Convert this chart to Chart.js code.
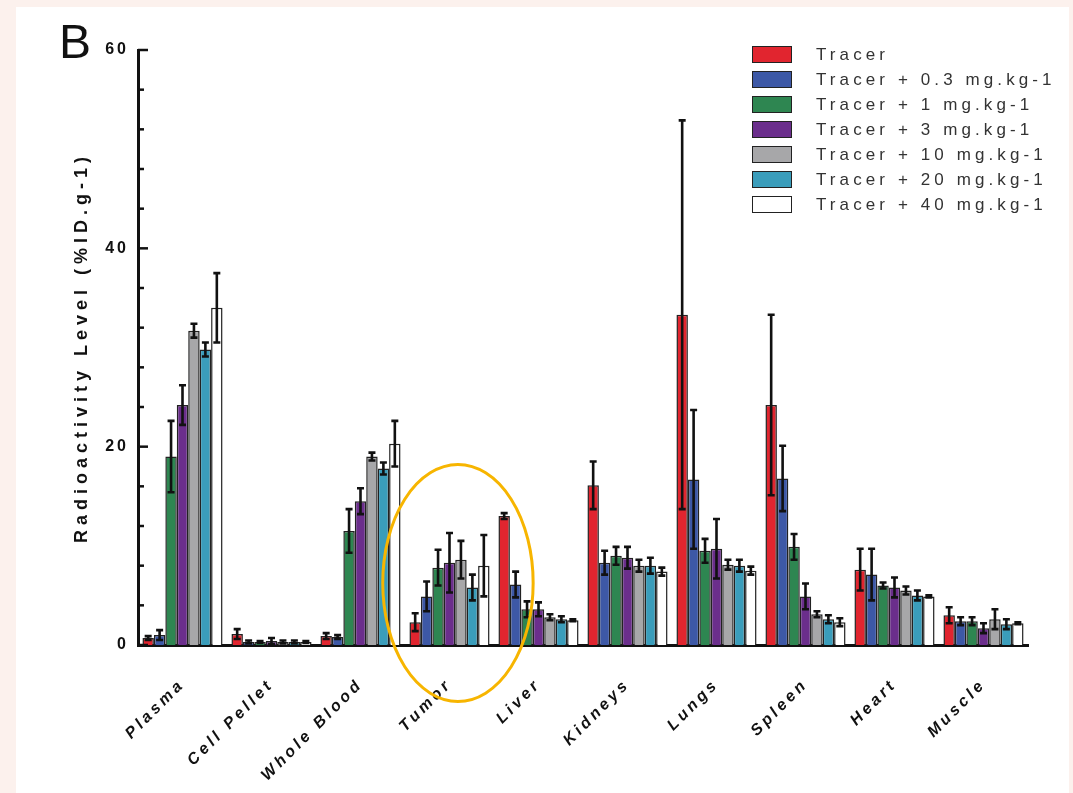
<!DOCTYPE html>
<html>
<head>
<meta charset="utf-8">
<script src="https://cdn.jsdelivr.net/npm/chart.js@4.4.1/dist/chart.umd.min.js"></script>
<style>
  html, body { margin:0; padding:0; }
  body { width:1073px; height:793px; background:#fcf1ed; position:relative; overflow:hidden; font-family:"Liberation Sans", Arial, sans-serif; }
  #panel { position:absolute; left:16px; top:7px; width:1053px; height:786px; background:#fff; }
  #chartBox { position:absolute; left:0; top:0; width:1073px; height:793px; }
  #panelLetter { position:absolute; left:59px; top:18px; font-size:48px; line-height:48px; color:#111; }
  #legend { position:absolute; left:752px; top:42px; list-style:none; margin:0; padding:0; }
  #legend li { height:25px; display:flex; align-items:center; }
  #legend .box { width:38px; height:15px; border:1.5px solid #222; margin-right:24px; box-sizing:content-box; }
  #legend .txt { font-size:17px; letter-spacing:4.1px; color:#333; }
</style>
</head>
<body>
<div id="panel"></div>
<div id="chartBox"><canvas id="bioChart" width="1073" height="793"></canvas></div>
<div id="panelLetter">B</div>
<ul id="legend"></ul>
<script>
// Organs and dose groups
const organs = ['Plasma','Cell Pellet','Whole Blood','Tumor','Liver','Kidneys','Lungs','Spleen','Heart','Muscle'];
const doseLabels = ['Tracer','Tracer + 0.3 mg.kg-1','Tracer + 1 mg.kg-1','Tracer + 3 mg.kg-1','Tracer + 10 mg.kg-1','Tracer + 20 mg.kg-1','Tracer + 40 mg.kg-1'];
const doseColors = ['#e1252f','#3d58a6','#2e8651','#6b2e8c','#a7a7a9','#3a9dbb','#ffffff'];

// mean %ID/g per organ, one array per dose group
const tracerMean  = [0.7, 1.1, 0.9, 2.3, 13.0, 16.1, 33.3, 24.2, 7.6, 3.0];
const dose03Mean  = [1.0, 0.3, 0.8, 4.9, 6.1, 8.3, 16.7, 16.8, 7.1, 2.4];
const dose1Mean   = [19.0, 0.3, 11.5, 7.8, 3.6, 9.0, 9.5, 9.9, 6.0, 2.4];
const dose3Mean   = [24.2, 0.4, 14.5, 8.3, 3.6, 8.8, 9.7, 4.9, 5.8, 1.7];
const dose10Mean  = [31.7, 0.3, 19.0, 8.6, 2.8, 8.0, 8.1, 3.1, 5.5, 2.6];
const dose20Mean  = [29.8, 0.3, 17.8, 5.8, 2.6, 8.0, 8.0, 2.6, 5.0, 2.1];
const dose40Mean  = [34.0, 0.3, 20.3, 8.0, 2.5, 7.4, 7.5, 2.3, 4.9, 2.2];

// error bars (+/-)
const tracerErr = [0.2, 0.5, 0.3, 0.9, 0.3, 2.4, 19.6, 9.1, 2.1, 0.8];
const dose03Err = [0.5, 0.15, 0.2, 1.5, 1.3, 1.2, 7.0, 3.3, 2.6, 0.4];
const dose1Err  = [3.6, 0.1, 2.2, 1.8, 0.8, 0.9, 1.2, 1.3, 0.3, 0.4];
const dose3Err  = [2.0, 0.3, 1.3, 3.0, 0.7, 1.1, 3.0, 1.3, 1.0, 0.5];
const dose10Err = [0.7, 0.15, 0.4, 1.9, 0.3, 0.6, 0.5, 0.3, 0.4, 1.0];
const dose20Err = [0.7, 0.15, 0.6, 1.3, 0.3, 0.8, 0.6, 0.4, 0.5, 0.5];
const dose40Err = [3.5, 0.1, 2.3, 3.1, 0.1, 0.4, 0.4, 0.4, 0.1, 0.1];

const yTicks = [0, 20, 40, 60];

// circled region (category index range and y range)
const circleX = [2.25, 3.94];
const circleY = [-5.7, 18.2];

const means = [tracerMean, dose03Mean, dose1Mean, dose3Mean, dose10Mean, dose20Mean, dose40Mean];
const errs  = [tracerErr, dose03Err, dose1Err, dose3Err, dose10Err, dose20Err, dose40Err];

// canvas has no letter-spacing option in chart.js, so wrap the scale draw calls
function spaced(scale, method, sp){
  const key = '_sp_' + method;
  if (scale[key]) return;
  const orig = scale[method];
  scale[method] = function(...a){
    const c = this.ctx, prev = c.letterSpacing;
    c.letterSpacing = sp;
    orig.apply(this, a);
    c.letterSpacing = prev;
  };
  scale[key] = true;
}
const spacing = {
  id: 'spacing',
  afterLayout(chart){
    spaced(chart.scales.x, 'drawLabels', '3.5px');
    spaced(chart.scales.y, 'drawLabels', '3px');
    spaced(chart.scales.y, 'drawTitle', '5px');
  }
};

const errorBars = {
  id: 'errorBars',
  afterDatasetsDraw(chart){
    const ctx = chart.ctx, y = chart.scales.y;
    ctx.save();
    ctx.strokeStyle = '#111';
    ctx.lineWidth = 2.6;
    chart.data.datasets.forEach((ds, i) => {
      chart.getDatasetMeta(i).data.forEach((bar, j) => {
        const v = ds.data[j], e = errs[i][j];
        const top = y.getPixelForValue(v + e), bot = y.getPixelForValue(Math.max(0, v - e));
        ctx.beginPath();
        ctx.moveTo(bar.x, top); ctx.lineTo(bar.x, bot);
        ctx.moveTo(bar.x - 3.5, top); ctx.lineTo(bar.x + 3.5, top);
        ctx.moveTo(bar.x - 3.5, bot); ctx.lineTo(bar.x + 3.5, bot);
        ctx.stroke();
      });
    });
    ctx.restore();
  }
};

// tick marks pointing into the plot, long on labelled ticks
const innerTicks = {
  id: 'innerTicks',
  afterDraw(chart){
    const ctx = chart.ctx, y = chart.scales.y, left = chart.chartArea.left;
    ctx.save();
    ctx.strokeStyle = '#111';
    ctx.lineWidth = 2.5;
    y.ticks.forEach((t, k) => {
      const py = y.getPixelForTick(k);
      const len = yTicks.includes(t.value) ? 10 : 6;
      ctx.beginPath(); ctx.moveTo(left, py); ctx.lineTo(left + len, py); ctx.stroke();
    });
    ctx.restore();
  }
};

const circleMark = {
  id: 'circleMark',
  afterDraw(chart){
    const ctx = chart.ctx, x = chart.scales.x, y = chart.scales.y;
    const x1 = x.getPixelForValue(circleX[0]), x2 = x.getPixelForValue(circleX[1]);
    const y1 = y.getPixelForValue(circleY[1]), y2 = y.getPixelForValue(circleY[0]);
    ctx.save();
    ctx.strokeStyle = '#f7b500';
    ctx.lineWidth = 3;
    ctx.beginPath();
    ctx.ellipse((x1 + x2) / 2, (y1 + y2) / 2, (x2 - x1) / 2, (y2 - y1) / 2, 0, 0, Math.PI * 2);
    ctx.stroke();
    ctx.restore();
  }
};

const chart = new Chart(document.getElementById('bioChart').getContext('2d'), {
  type: 'bar',
  data: {
    labels: organs,
    datasets: doseLabels.map((label, i) => ({
      label,
      data: means[i],
      backgroundColor: doseColors[i],
      borderColor: '#222',
      borderWidth: 1.5,
      categoryPercentage: 0.9,
      barPercentage: 1.0
    }))
  },
  options: {
    responsive: false,
    animation: false,
    layout: { padding: { left: 0, top: 50, right: 45, bottom: 0 } },
    plugins: { legend: { display: false }, tooltip: { enabled: false } },
    scales: {
      x: {
        grid: { display: false },
        border: { display: true, color: '#111', width: 3 },
        ticks: {
          autoSkip: false, minRotation: 45, maxRotation: 45, padding: 22,
          color: '#111', font: { family: 'Liberation Sans', size: 16, weight: 'bold', style: 'italic' }
        },
        afterFit(s){ s.height = 148; }
      },
      y: {
        min: 0, max: 60,
        grid: { display: false },
        border: { display: true, color: '#111', width: 3 },
        ticks: {
          stepSize: 4, autoSkip: false, padding: 1, color: '#111',
          font: { family: 'Liberation Sans', size: 16, weight: 'bold' },
          callback: v => yTicks.includes(v) ? String(v) : ''
        },
        title: {
          display: true, text: 'Radioactivity Level (%ID.g-1)', color: '#111',
          font: { family: 'Liberation Sans', size: 18, weight: 'bold' },
          padding: { top: 71, bottom: 0 }
        },
        afterFit(s){ s.width = 138; }
      }
    }
  },
  plugins: [spacing, errorBars, innerTicks, circleMark]
});

// legend from the datasets
const legend = document.getElementById('legend');
doseLabels.forEach((label, i) => {
  const li = document.createElement('li');
  li.innerHTML = `<span class="box" style="background:${doseColors[i]}"></span><span class="txt">${label}</span>`;
  legend.appendChild(li);
});
</script>
</body>
</html>
